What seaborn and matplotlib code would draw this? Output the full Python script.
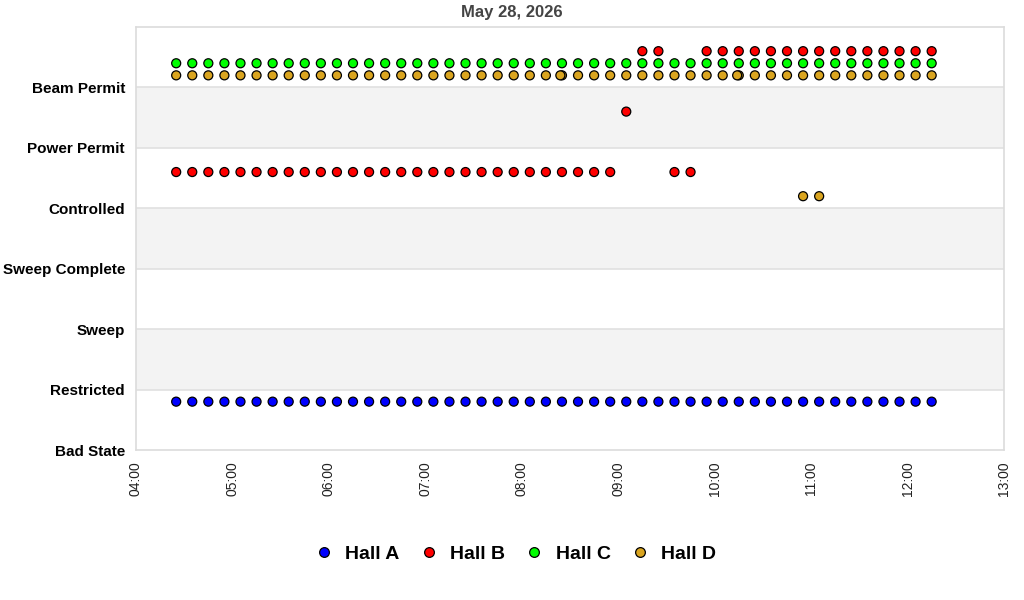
import numpy as np
import pandas as pd
import seaborn as sns
import matplotlib.pyplot as plt

# niveis de estado (de baixo para cima)
estados = ["Bad State", "Restricted", "Sweep", "Sweep Complete",
           "Controlled", "Power Permit", "Beam Permit"]

# horarios das amostras
horarios = ["04:25", "04:35", "04:45", "04:55", "05:05", "05:15", "05:25", "05:35",
            "05:45", "05:55", "06:05", "06:15", "06:25", "06:35", "06:45", "06:55",
            "07:05", "07:15", "07:25", "07:35", "07:45", "07:55", "08:05", "08:15",
            "08:25", "08:35", "08:45", "08:55", "09:05", "09:15", "09:25", "09:35",
            "09:45", "09:55", "10:05", "10:15", "10:25", "10:35", "10:45", "10:55",
            "11:05", "11:15", "11:25", "11:35", "11:45", "11:55", "12:05", "12:15"]

hallA = ["Bad State"] * 48
hallB = (["Controlled"] * 28 + ["Power Permit"] + ["Beam Permit"] * 2
         + ["Controlled"] * 2 + ["Beam Permit"] * 15)
hallC = ["Beam Permit"] * 48
hallD = ["Beam Permit"] * 48

# pontos extras do Hall D
extraD_horarios = ["08:24", "10:14", "10:55", "11:05"]
extraD = ["Beam Permit", "Beam Permit", "Controlled", "Controlled"]

halls = ["Hall A", "Hall B", "Hall C", "Hall D"]
cores = {"Hall A": "#0000ff", "Hall B": "#ff0000", "Hall C": "#00ff00", "Hall D": "#daa520"}
deslocamento = {"Hall A": 0.8, "Hall B": 0.6, "Hall C": 0.4, "Hall D": 0.2}


def horas(t):
    h, m = t.split(":")
    return int(h) + int(m) / 60.0


linhas = []
for hall, valores, tempos in [("Hall A", hallA, horarios), ("Hall B", hallB, horarios),
                              ("Hall C", hallC, horarios),
                              ("Hall D", hallD + extraD, horarios + extraD_horarios)]:
    for t, v in zip(tempos, valores):
        linhas.append({"hall": hall, "x": horas(t),
                       "y": estados.index(v) + deslocamento[hall]})
df = pd.DataFrame(linhas)

sns.set_style("white")
plt.rcParams['font.family'] = ['Liberation Sans', 'DejaVu Sans']

fig = plt.figure(figsize=(10.24, 6), dpi=100)
ax = fig.add_axes([136 / 1024, 1 - 450 / 600, (1004 - 136) / 1024, (450 - 27) / 600])

# faixas cinzas
for a, b in [(1, 2), (3, 4), (5, 6)]:
    ax.axhspan(a, b, color="#f3f3f3", zorder=0, lw=0)
for i in range(1, 7):
    ax.axhline(i, color="#e0e0e0", lw=1.2, zorder=0.5)

sns.scatterplot(data=df, x="x", y="y", hue="hall", hue_order=halls,
                palette=cores, s=42, edgecolor="black", linewidth=0.9,
                ax=ax, zorder=3, legend=False)

ax.set_xlim(4, 13)
ax.set_ylim(0, 7)
ax.set_xticks(range(4, 14))
ax.set_xticklabels(["%02d:00" % h for h in range(4, 14)], rotation=90,
                   fontsize=10, color="#222222")
ax.set_yticks(range(0, 7))
ax.set_yticklabels(estados, fontsize=11, fontweight="bold", color="#000000")
ax.tick_params(axis="both", length=0, pad=8)
ax.set_xlabel("")
ax.set_ylabel("")
for s in ax.spines.values():
    s.set_color("#dcdcdc")
    s.set_linewidth(1.2)

fig.text(0.5, 1 - 13 / 600, "May 28, 2026", ha="center", va="center",
         fontsize=12, fontweight="bold", color="#444444")

alcas = [plt.Line2D([], [], marker="o", ls="", markersize=7, markerfacecolor=cores[h],
                    markeredgecolor="black", markeredgewidth=0.9) for h in halls]
leg = fig.legend(alcas, halls, loc="center", bbox_to_anchor=(0.503, 1 - 554 / 600), ncol=4,
                 frameon=False, prop={"weight": "bold", "size": 14}, handletextpad=0.6,
                 handlelength=1.0, columnspacing=1.0)
for t in leg.get_texts():
    t.set_color("black")

fig.savefig("out.png", dpi=100)
